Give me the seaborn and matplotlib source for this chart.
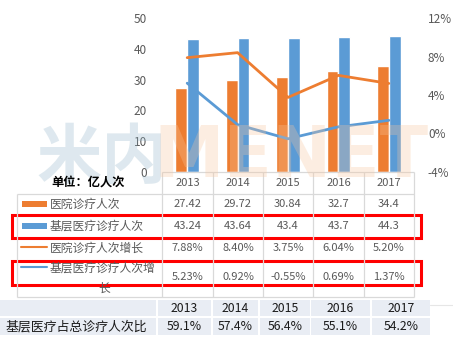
import numpy as np
import pandas as pd
import matplotlib
matplotlib.use("Agg")
import matplotlib.pyplot as plt
from matplotlib.patches import Rectangle
import seaborn as sns

# ---------------- data ----------------
years = ["2013", "2014", "2015", "2016", "2017"]
hospital_visits = [27.42, 29.72, 30.84, 32.7, 34.4]
primary_visits = [43.24, 43.64, 43.4, 43.7, 44.3]
hospital_growth = [7.88, 8.40, 3.75, 6.04, 5.20]
primary_growth = [5.23, 0.92, -0.55, 0.69, 1.37]
primary_share = ["59.1%", "57.4%", "56.4%", "55.1%", "54.2%"]

series_names = ["医院诊疗人次", "基层医疗诊疗人次", "医院诊疗人次增长", "基层医疗诊疗人次增长"]
unit_label = "单位：亿人次"
share_label = "基层医疗占总诊疗人次比"
left_ticks = [0, 10, 20, 30, 40, 50]
right_ticks = [-4, 0, 4, 8, 12]

ORANGE = "#ED7D31"
BLUE = "#5B9BD5"
GRAY_TXT = "#595959"
GRID = "#D9D9D9"

sns.set_theme(style="white")
plt.rcParams["font.family"] = ["Noto Sans CJK SC", "DejaVu Sans"]
plt.rcParams["axes.unicode_minus"] = False

W, H = 453, 340
fig = plt.figure(figsize=(W / 100, H / 100), dpi=100)

# plot area in pixel coordinates
px_l, px_r, px_t, px_b = 162, 414, 18, 172
ax = fig.add_axes([px_l / W, 1 - px_b / H, (px_r - px_l) / W, (px_b - px_t) / H])

df = pd.DataFrame({
    "year": years * 2,
    "value": hospital_visits + primary_visits,
    "series": [series_names[0]] * len(years) + [series_names[1]] * len(years),
})
sns.barplot(data=df, x="year", y="value", hue="series", order=years,
            hue_order=series_names[:2], palette=[ORANGE, BLUE],
            width=0.47, gap=0, saturation=1, ax=ax, legend=False)

ax.set_ylim(0, 50)
ax.set_yticks(left_ticks)
ax.set_yticklabels([str(t) for t in left_ticks], fontsize=8.5, color=GRAY_TXT)
ax.set_xlabel("")
ax.set_ylabel("")
ax.set_xticks([])
ax.tick_params(axis="y", length=0, pad=11)
for s in ax.spines.values():
    s.set_visible(False)

ax2 = ax.twinx()
gdf1 = pd.DataFrame({"year": years, "g": hospital_growth})
gdf2 = pd.DataFrame({"year": years, "g": primary_growth})
sns.pointplot(data=gdf1, x="year", y="g", order=years, color=ORANGE, marker="",
              linewidth=2.0, errorbar=None, ax=ax2)
sns.pointplot(data=gdf2, x="year", y="g", order=years, color=BLUE, marker="",
              linewidth=2.0, errorbar=None, ax=ax2)
ax2.set_ylim(-4, 12)
ax2.set_yticks(right_ticks)
ax2.set_yticklabels([f"{t}%" for t in right_ticks], fontsize=8.5, color=GRAY_TXT)
ax2.tick_params(axis="y", length=0, pad=10)
ax2.set_xlabel("")
ax2.set_ylabel("")
ax2.set_xticks([])
for s in ax2.spines.values():
    s.set_visible(False)
ax.set_xlim(-0.5, len(years) - 0.5)
ax2.set_xlim(-0.5, len(years) - 0.5)

# ---------------- overlay (watermark + tables) in pixel coords ----------------
ov = fig.add_axes([0, 0, 1, 1], zorder=10)
ov.set_xlim(0, W)
ov.set_ylim(H, 0)
ov.axis("off")
ov.patch.set_alpha(0)

ov.text(36, 178, "米内", fontsize=47, fontweight="bold", color="#94B6CA", alpha=0.3,
        ha="left", va="baseline")
ov.text(153, 177, "MENET", fontsize=51, fontweight="bold", color="#F8C69E", alpha=0.3,
        ha="left", va="baseline", family="DejaVu Sans")

# data table grid
col_edges = [162, 213, 263, 313, 364, 414]
def hline(y, x0, x1, **kw):
    ov.plot([x0, x1], [y, y], **kw)
def vline(x, y0, y1, **kw):
    ov.plot([x, x], [y0, y1], **kw)

gkw = dict(color=GRID, lw=0.9, solid_capstyle="butt")
hline(172, 162, 414, **gkw)
hline(194, 17, 414, **gkw)
hline(297, 17, 414, **gkw)
vline(17, 194, 297, **gkw)
for x in col_edges:
    vline(x, 172, 297, **gkw)

centers = [(col_edges[i] + col_edges[i + 1]) / 2 for i in range(len(years))]
ov.text(88, 183, unit_label, fontsize=8.8, fontweight="bold", color="black",
        ha="center", va="center")
for c, y in zip(centers, years):
    ov.text(c, 183, y, fontsize=8, color=GRAY_TXT, ha="center", va="center")

row_y = [204, 226, 248, 277]
rows = [
    [f"{v:g}" for v in hospital_visits],
    [f"{v:g}" for v in primary_visits],
    [f"{v:.2f}%" for v in hospital_growth],
    [f"{v:.2f}%" for v in primary_growth],
]
for ry, vals in zip(row_y, rows):
    for c, v in zip(centers, vals):
        ov.text(c, ry, v, fontsize=8, color=GRAY_TXT, ha="center", va="center")

# legend keys
ov.add_patch(Rectangle((22, 201), 25, 6, color=ORANGE, lw=0))
ov.add_patch(Rectangle((22, 223), 25, 6, color=BLUE, lw=0))
ov.plot([21, 47], [247, 247], color=ORANGE, lw=1.5)
ov.plot([21, 47], [267, 267], color=BLUE, lw=1.5)
for ry, name in zip(row_y[:3], series_names[:3]):
    ov.text(50, ry, name, fontsize=8.5, color=GRAY_TXT, ha="left", va="center")
ov.text(50, 268, series_names[3][:-1], fontsize=8.5, color=GRAY_TXT, ha="left", va="center")
ov.text(104, 288, series_names[3][-1], fontsize=8.5, color=GRAY_TXT, ha="center", va="center")

# red highlight boxes
for y0, y1 in [(215, 238), (261, 285)]:
    ov.add_patch(Rectangle((12, y0), 409, y1 - y0, fill=False, edgecolor="#FF0000", lw=2.2))

# bottom share table
BG = "#E9EDF4"
b_edges = [(0, 156), (158, 211), (213, 258), (260, 310), (311, 370), (372, 430)]
for (x0, x1) in b_edges:
    ov.add_patch(Rectangle((x0, 300), x1 - x0, 16, color=BG, lw=0))
    ov.add_patch(Rectangle((x0, 318), x1 - x0, 17, color=BG, lw=0))
for (x0, x1), y, s in zip(b_edges[1:], years, primary_share):
    cx = (x0 + x1) / 2
    ov.text(cx, 308, y, fontsize=8.8, color="#1a1a1a", ha="center", va="center", fontweight="medium")
    ov.text(cx, 326.5, s, fontsize=8.8, color="#1a1a1a", ha="center", va="center", fontweight="medium")
ov.text(5, 326.5, share_label, fontsize=9.3, color="#1a1a1a", ha="left", va="center")
hline(305, 430, 453, color="#E6E6E6", lw=0.8)

fig.savefig("out.png", dpi=100)
